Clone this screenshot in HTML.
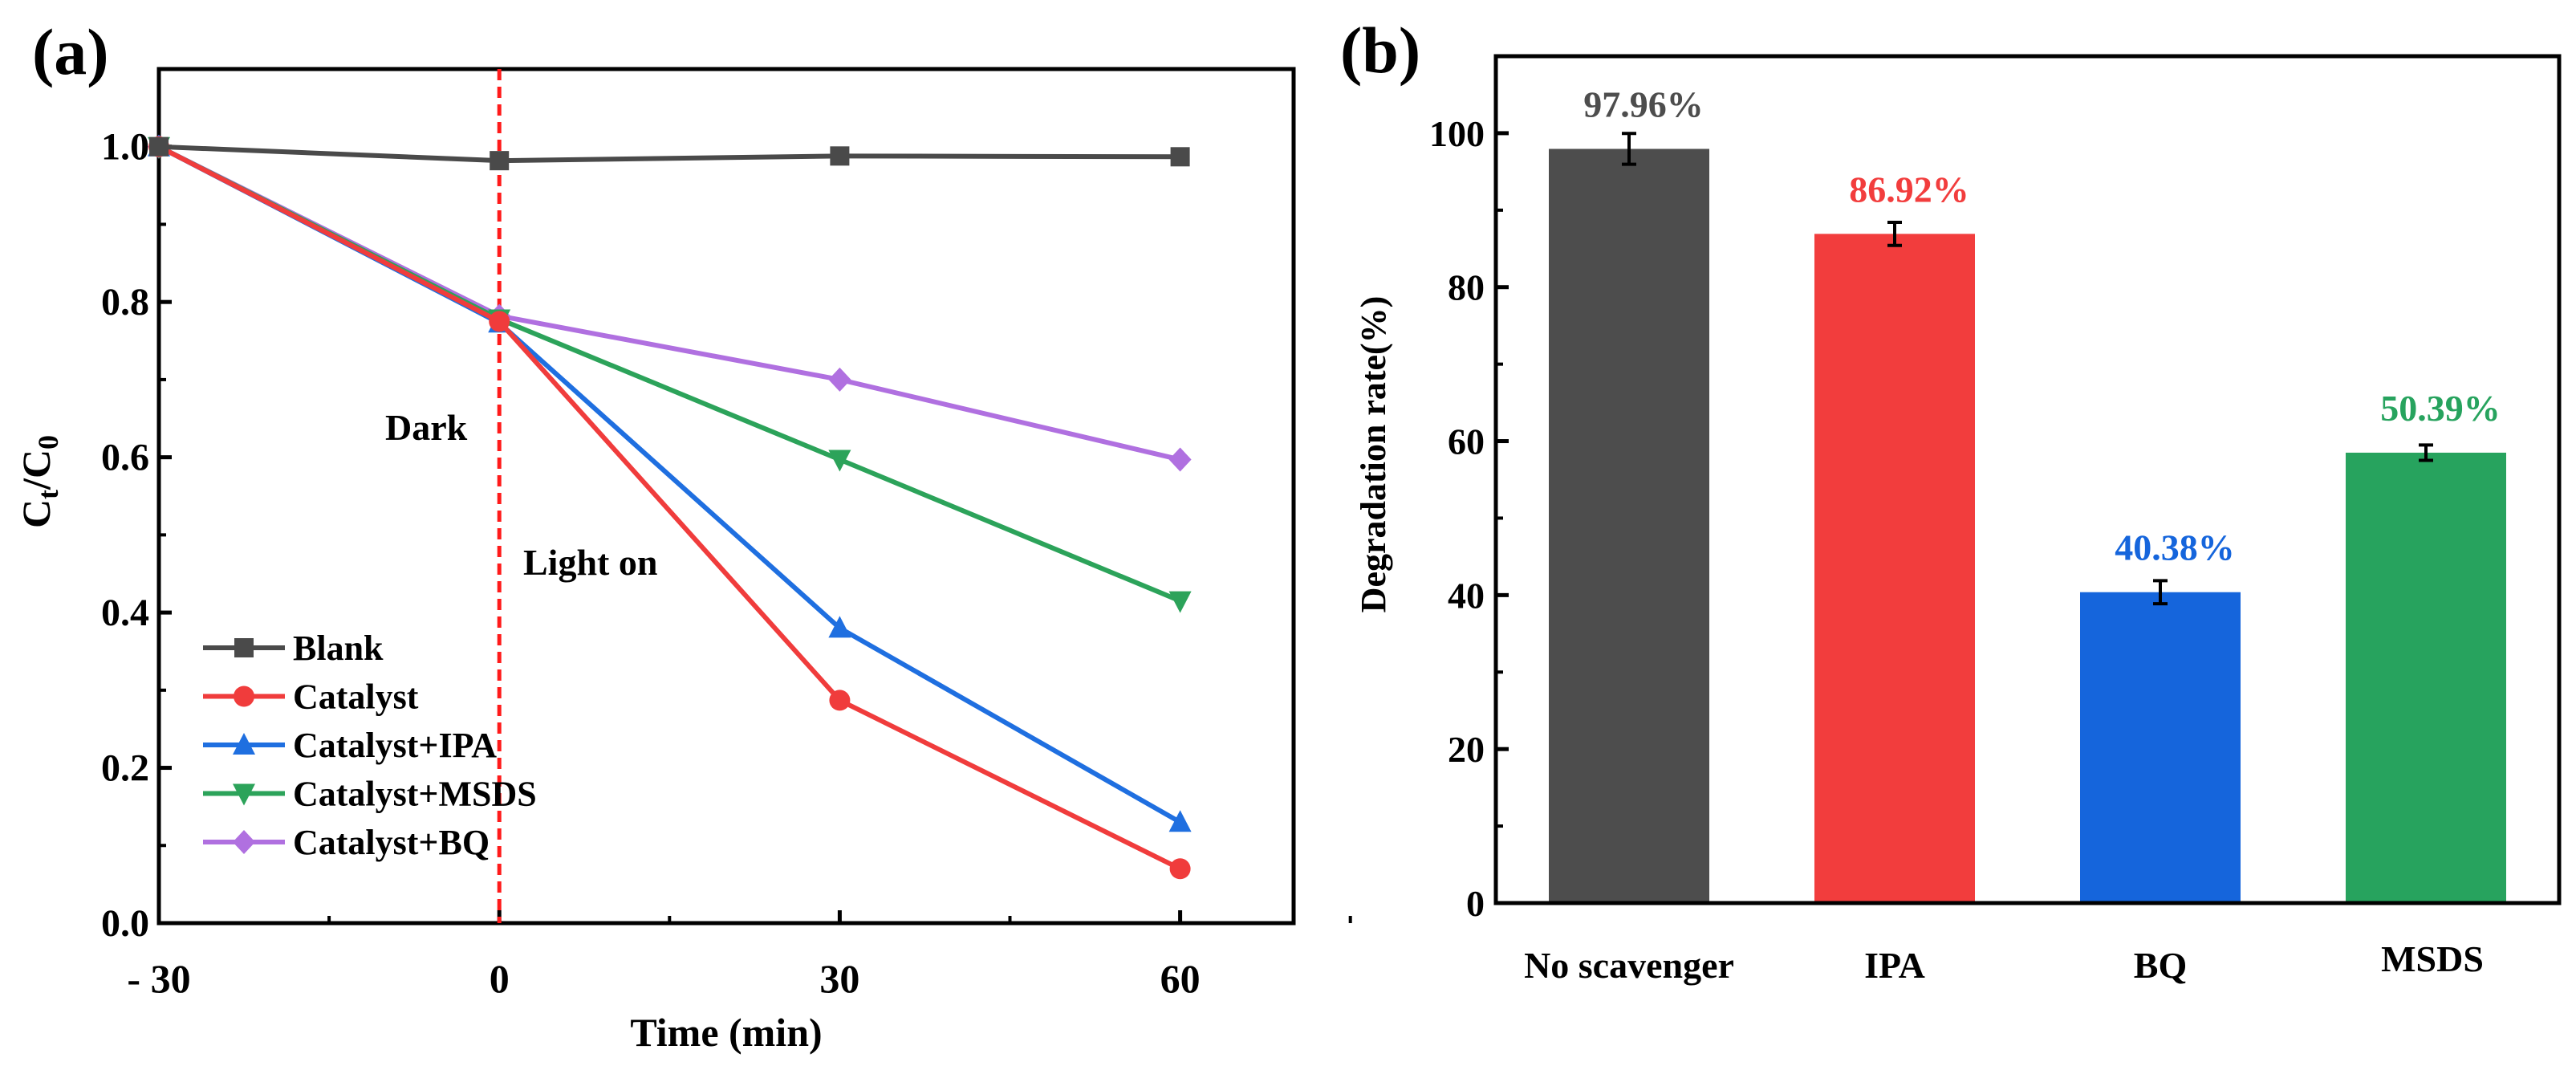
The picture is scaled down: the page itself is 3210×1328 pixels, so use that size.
<!DOCTYPE html>
<html><head><meta charset="utf-8"><style>
body{margin:0;background:#fff}
svg text{font-family:"Liberation Serif",serif;font-weight:bold}
</style></head><body>
<svg id="chart" width="3210" height="1323" viewBox="0 0 3210 1323" xmlns="http://www.w3.org/2000/svg">
<rect width="3210" height="1323" fill="#fff"/>
<g id="pa"></g>
<g id="pb"></g>
</svg>
<script>
const timePoints=[-30,0,30,60];
const blankVals=[1.0,0.982,0.988,0.987];
const catalystVals=[1.0,0.775,0.287,0.07];
const ipaVals=[1.0,0.773,0.38,0.13];
const msdsVals=[1.0,0.778,0.597,0.415];
const bqVals=[1.0,0.782,0.70,0.597];
const seriesNames=["Blank","Catalyst","Catalyst+IPA","Catalyst+MSDS","Catalyst+BQ"];
const xTicksA=[-30,0,30,60];
const xTickLabelsA=["- 30","0","30","60"];
const yTicksA=[0,0.2,0.4,0.6,0.8,1.0];
const yTickLabelsA=["0.0","0.2","0.4","0.6","0.8","1.0"];
const barCats=["No scavenger","IPA","BQ","MSDS"];
const barVals=[97.96,86.92,40.38,58.5];
const barErr=[2,1.5,1.5,1];
const barLabels=["97.96%","86.92%","40.38%","50.39%"];
const yTicksB=[0,20,40,60,80,100];

const NS="http://www.w3.org/2000/svg";
function mk(parent,tag,attrs,text){const e=document.createElementNS(NS,tag);for(const k in attrs)e.setAttribute(k,attrs[k]);if(text!==undefined)e.textContent=text;parent.appendChild(e);return e;}

// Panel A
const pa=document.getElementById('pa');
const AL=198,AR=1612,AT=86,AB=1150;
const ax=v=>AL+(v+30)/100*(AR-AL);
const ay=v=>AB-v/1.1*(AB-AT);
let t=mk(pa,'text',{x:40,y:92,'font-size':82});t.textContent='(a)';

yTicksA.forEach((v,i)=>{
 let l=mk(pa,'line',{x1:AL,x2:AL+16,y1:ay(v),y2:ay(v),stroke:'#000','stroke-width':5});
 
 let m=mk(pa,'line',{x1:AL,x2:AL+9,y1:ay(v+0.1),y2:ay(v+0.1),stroke:'#000','stroke-width':4});
 
 let tx=mk(pa,'text',{x:AL-12,y:ay(v)+16,'font-size':48,'text-anchor':'end'},yTickLabelsA[i]);
 
});
xTicksA.forEach((v,i)=>{
 let l=mk(pa,'line',{x1:ax(v),x2:ax(v),y1:AB,y2:AB-16,stroke:'#000','stroke-width':5});
 
 let m=mk(pa,'line',{x1:ax(v+15),x2:ax(v+15),y1:AB,y2:AB-9,stroke:'#000','stroke-width':4});
 
 let tx=mk(pa,'text',{x:ax(v),y:1236,'font-size':50,'text-anchor':'middle'},xTickLabelsA[i]);
 
});
let fr=mk(pa,'rect',{x:AL,y:AT,width:AR-AL,height:AB-AT,fill:'none',stroke:'#000','stroke-width':5});

let xt=mk(pa,'text',{x:905,y:1303,'font-size':50,'text-anchor':'middle'},'Time (min)');

let yt=mk(pa,'text',{transform:'translate(62,600) rotate(-90)','font-size':50,'text-anchor':'middle'});

yt.innerHTML='C<tspan font-size="36" dy="10">t</tspan><tspan dy="-10">/C</tspan><tspan font-size="36" dy="10">0</tspan>';
let dl=mk(pa,'line',{x1:ax(0),x2:ax(0),y1:AT,y2:AB,stroke:'#ff1a1a','stroke-width':5,'stroke-dasharray':'14,8'});

let d=mk(pa,'text',{x:480,y:548,'font-size':46},'Dark');
let lo=mk(pa,'text',{x:652,y:716,'font-size':46},'Light on');

const seriesData=[blankVals,catalystVals,ipaVals,msdsVals,bqVals];
const colors=['#4a4a4a','#f03c3c','#1f6fe0','#2ca35a','#b070e0'];
const shapes=['square','circle','up','down','diamond'];
function marker(g,x,y,s,c){let e;const r=12;
 if(s==='square')e=mk(g,'rect',{x:x-r,y:y-r,width:2*r,height:2*r,fill:c});
 else if(s==='circle')e=mk(g,'circle',{cx:x,cy:y,r:r+1,fill:c});
 else if(s==='up')e=mk(g,'polygon',{points:`${x},${y-r-3} ${x-r-2},${y+r} ${x+r+2},${y+r}`,fill:c});
 else if(s==='down')e=mk(g,'polygon',{points:`${x},${y+r+3} ${x-r-2},${y-r} ${x+r+2},${y-r}`,fill:c});
 else e=mk(g,'polygon',{points:`${x},${y-r-3} ${x+r+2},${y} ${x},${y+r+3} ${x-r-2},${y}`,fill:c});
 }
for(let si=seriesData.length-1;si>=0;si--){
 const g=mk(pa,'g',{});
 const pts=seriesData[si].map((v,i)=>ax(timePoints[i])+','+ay(v)).join(' ');
 let pl=mk(g,'polyline',{points:pts,fill:'none',stroke:colors[si],'stroke-width':6});
 
 seriesData[si].forEach((v,i)=>marker(g,ax(timePoints[i]),ay(v),shapes[si],colors[si]));
}
seriesNames.forEach((n,i)=>{
 const y=807+i*60.5;const g=mk(pa,'g',{});
 
 mk(g,'line',{x1:253,x2:355,y1:y,y2:y,stroke:colors[i],'stroke-width':6});
 marker(g,304,y,shapes[i],colors[i]);
 mk(g,'text',{x:365,y:y+15,'font-size':44},n);
});

// Panel B
const pb=document.getElementById('pb');
const BL=1864,BR=3189,BT=70,BB=1125;
const by=v=>BB-v/110*(BB-BT);
const bx=i=>2030+i*331;
let tb=mk(pb,'text',{x:1670,y:90,'font-size':82},'(b)');
yTicksB.forEach(v=>{
 let l=mk(pb,'line',{x1:BL,x2:BL+16,y1:by(v),y2:by(v),stroke:'#000','stroke-width':5});
 
 let m=mk(pb,'line',{x1:BL,x2:BL+9,y1:by(v+10),y2:by(v+10),stroke:'#000','stroke-width':4});
 
 let tx=mk(pb,'text',{x:BL-14,y:by(v)+16,'font-size':46,'text-anchor':'end'},String(v));
 
});
const bcol=['#4d4d4d','#f23d3d','#1565dc','#27a35e'];
barCats.forEach((c,i)=>{
 const g=mk(pb,'g',{});
 mk(g,'rect',{x:bx(i)-100,y:by(barVals[i]),width:200,height:BB-by(barVals[i]),fill:bcol[i]});
 const e1=by(barVals[i]+barErr[i]),e2=by(barVals[i]-barErr[i]);
 let eb=mk(g,'path',{d:`M${bx(i)},${e1}V${e2}M${bx(i)-9},${e1}H${bx(i)+9}M${bx(i)-9},${e2}H${bx(i)+9}`,stroke:'#000','stroke-width':4,fill:'none'});
 
 let vl=mk(pb,'text',{x:bx(i)+18,y:by(barVals[i])-40,'font-size':46,'text-anchor':'middle',fill:bcol[i]},barLabels[i]);
 
 let xl=mk(pb,'text',{x:bx(i)+(i==3?8:0),y:i==3?1210:1218,'font-size':46,'text-anchor':'middle'},c);
 
});
let fb=mk(pb,'rect',{x:BL,y:BT,width:BR-BL,height:BB-BT,fill:'none',stroke:'#000','stroke-width':5});

let ybt=mk(pb,'text',{transform:'translate(1726,566) rotate(-90)','font-size':44,'text-anchor':'middle'},'Degradation rate(%)');

</script>
</body></html>
